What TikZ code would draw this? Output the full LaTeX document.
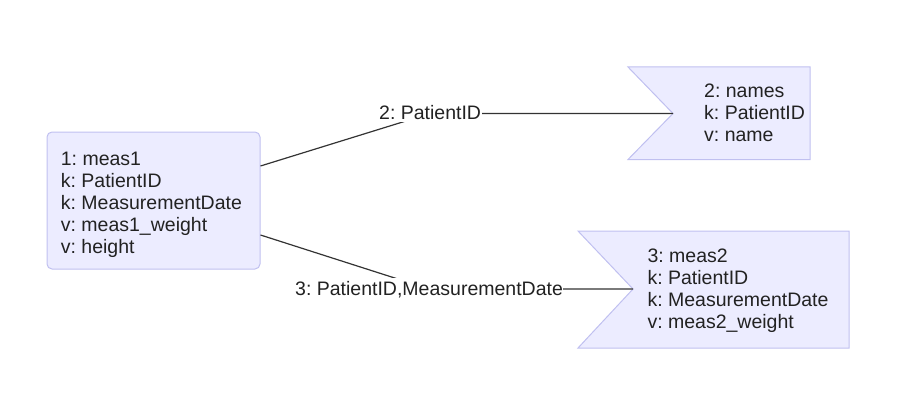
\documentclass[tikz,border=0pt]{standalone}
\usepackage{fontspec}
\setmainfont{Liberation Sans}
\frenchspacing
\definecolor{boxfill}{RGB}{236,236,255}
\definecolor{bord}{RGB}{192,192,240}
\definecolor{edgec}{RGB}{51,51,51}
\definecolor{txt}{RGB}{34,34,34}
\begin{document}
\begin{tikzpicture}[x=1pt,y=-1pt,
  every node/.style={font=\fontsize{19.5}{22}\selectfont\frenchspacing, text=txt},
  boxtext/.style={align=left, inner sep=0pt, anchor=base west},
  shapeline/.style={draw=bord, fill=boxfill, line width=1pt},
  conn/.style={draw=edgec, line width=1.2pt},
  lbl/.style={fill=white, inner xsep=0.5pt, inner ysep=3pt, anchor=base west}]
\useasboundingbox (0,0) rectangle (919,412);
% box 1
\node[shapeline, rounded corners=5pt, minimum width=213pt, minimum height=137pt, inner sep=0pt] (b1) at (153.5,200.5) {};
\node[boxtext] (t1) at (60.7,253) {1: meas1\\k: PatientID\\k: MeasurementDate\\v: meas1\_weight\\v: height};
% box 2
\draw[shapeline] (628,67) -- (810,67) -- (810,159.5) -- (628,159.5) -- (673,113.5) -- cycle;
\coordinate (n2) at (673,113.5);
\node[boxtext] (t2) at (704,141.2) {2: names\\k: PatientID\\v: name};
% box 3
\draw[shapeline] (578,231) -- (849,231) -- (849,348) -- (578,348) -- (633,289) -- cycle;
\coordinate (n3) at (633,289);
\node[boxtext] (t3) at (647.3,328) {3: meas2\\k: PatientID\\k: MeasurementDate\\v: meas2\_weight};
% edges and labels
\path (378.5,119.3) node[lbl, opacity=0] (l1) {2: PatientID};
\path (294.5,295) node[lbl, opacity=0] (l2) {3: PatientID,MeasurementDate};
\coordinate (s1) at ([yshift=34.5pt]b1.east);
\coordinate (s2) at ([yshift=-34.5pt]b1.east);
\draw[conn] (s1) -- (l1.center |- n2) -- (n2);
\draw[conn] (s2) -- (l2.center |- n3) -- (n3);
\path (378.5,119.3) node[lbl] {2: PatientID};
\path (294.5,295) node[lbl] {3: PatientID,MeasurementDate};
\end{tikzpicture}
\end{document}
